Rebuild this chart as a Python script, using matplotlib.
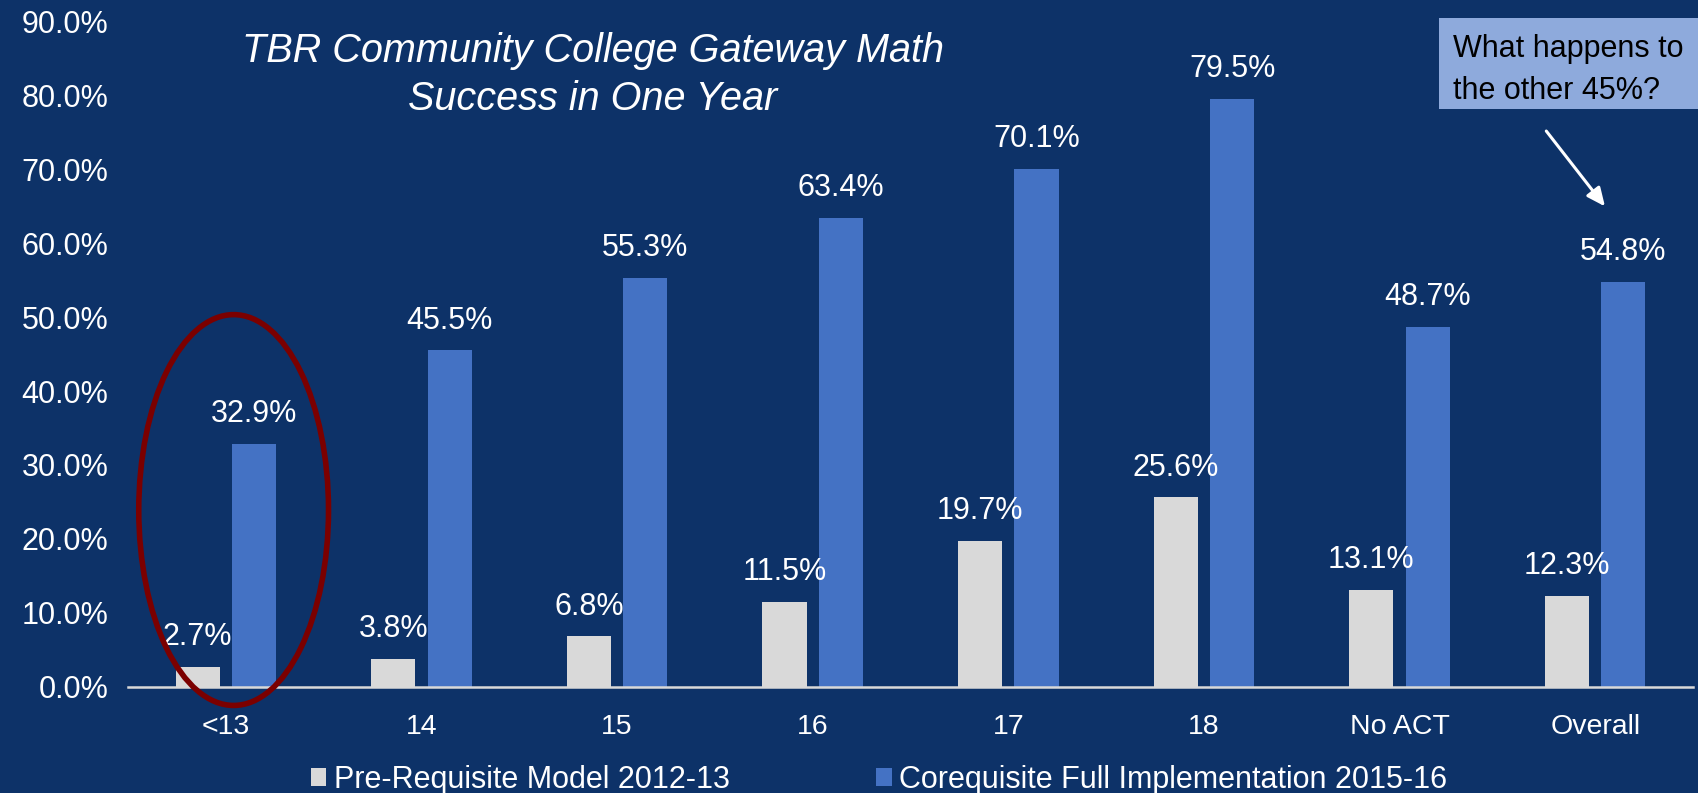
import matplotlib
matplotlib.use("Agg")
import matplotlib.pyplot as plt
from matplotlib.patches import Ellipse, Rectangle, Patch
import numpy as np

categories = ["<13", "14", "15", "16", "17", "18", "No ACT", "Overall"]
prereq = [2.7, 3.8, 6.8, 11.5, 19.7, 25.6, 13.1, 12.3]
coreq = [32.9, 45.5, 55.3, 63.4, 70.1, 79.5, 48.7, 54.8]
series_names = ["Pre-Requisite Model 2012-13", "Corequisite Full Implementation 2015-16"]
yticks = [0, 10, 20, 30, 40, 50, 60, 70, 80, 90]
title = "TBR Community College Gateway Math\nSuccess in One Year"
note = "What happens to\nthe other 45%?"

BG = "#0D3268"
GRAY = "#D9D9D9"
BLUE = "#4472C4"
FONT = ["Liberation Sans", "DejaVu Sans"]
plt.rcParams["font.family"] = FONT

W, H = 1698, 793
fig = plt.figure(figsize=(W / 100, H / 100), dpi=100, facecolor=BG)
ax = fig.add_axes([128 / W, 1 - 686.6 / H, (1693 - 128) / W, (686.6 - 21.7) / H])
ax.set_facecolor(BG)

x = np.arange(len(categories))
bw = 0.226
off = 0.144
b1 = ax.bar(x - off, prereq, bw, color=GRAY, label=series_names[0], zorder=2)
b2 = ax.bar(x + off, coreq, bw, color=BLUE, label=series_names[1], zorder=2)

for bars, vals in ((b1, prereq), (b2, coreq)):
    for r, v in zip(bars, vals):
        ax.annotate(f"{v:.1f}%", (r.get_x() + r.get_width() / 2, v),
                    xytext=(0, 21.5), textcoords="offset points",
                    ha="center", va="center", color="white", fontsize=22, zorder=5)

ax.set_xlim(-0.5, len(categories) - 0.5)
ax.set_ylim(0, 90)
ax.set_yticks(yticks)
ax.set_yticklabels([f"{t:.1f}%" for t in yticks])
ax.set_xticks(x)
ax.set_xticklabels(categories)
ax.tick_params(axis="y", length=0, pad=14, labelsize=22, labelcolor="white")
ax.tick_params(axis="x", length=0, pad=20, labelsize=20.5, labelcolor="white")
for s in ("top", "right", "left"):
    ax.spines[s].set_visible(False)
ax.spines["bottom"].set_color(GRAY)
ax.spines["bottom"].set_linewidth(1.8)
ax.spines["bottom"].set_zorder(3)

# red ellipse highlighting <13
ell = Ellipse((0.04, 23.9), 0.97, 52.9, fill=False, edgecolor="#7B0000",
              linewidth=4, clip_on=False, zorder=6)
ax.add_patch(ell)

# arrow
ax.annotate("", xy=(7.05, 65.0), xytext=(6.75, 75.2),
            arrowprops=dict(arrowstyle="-|>,head_length=1.1,head_width=0.5",
                            color="white", lw=2.2, shrinkA=0, shrinkB=0),
            annotation_clip=False)

# title
fig.text(593 / W, 1 - 75 / H, title, ha="center", va="center", color="white",
         fontsize=28.5, style="italic", linespacing=1.3)

# note box
fig.patches.append(Rectangle((1439 / W, 1 - 109 / H), (W - 1439) / W, 91 / H,
                             transform=fig.transFigure, facecolor="#8EAADC",
                             edgecolor="none", zorder=1))
fig.text(1453 / W, 1 - 70 / H, note, ha="left", va="center", color="black",
         fontsize=22, linespacing=1.5, zorder=2)

handles = [Patch(facecolor=GRAY), Patch(facecolor=BLUE)]
fig.legend(handles, series_names, loc="center", bbox_to_anchor=(879 / W, 1 - 780 / H),
           ncol=2, frameon=False, fontsize=22, labelcolor="white",
           handlelength=0.5, handleheight=0.5, handletextpad=0.25,
           columnspacing=4.8, borderpad=0, borderaxespad=0)

fig.savefig("out.png", dpi=100, facecolor=BG)
